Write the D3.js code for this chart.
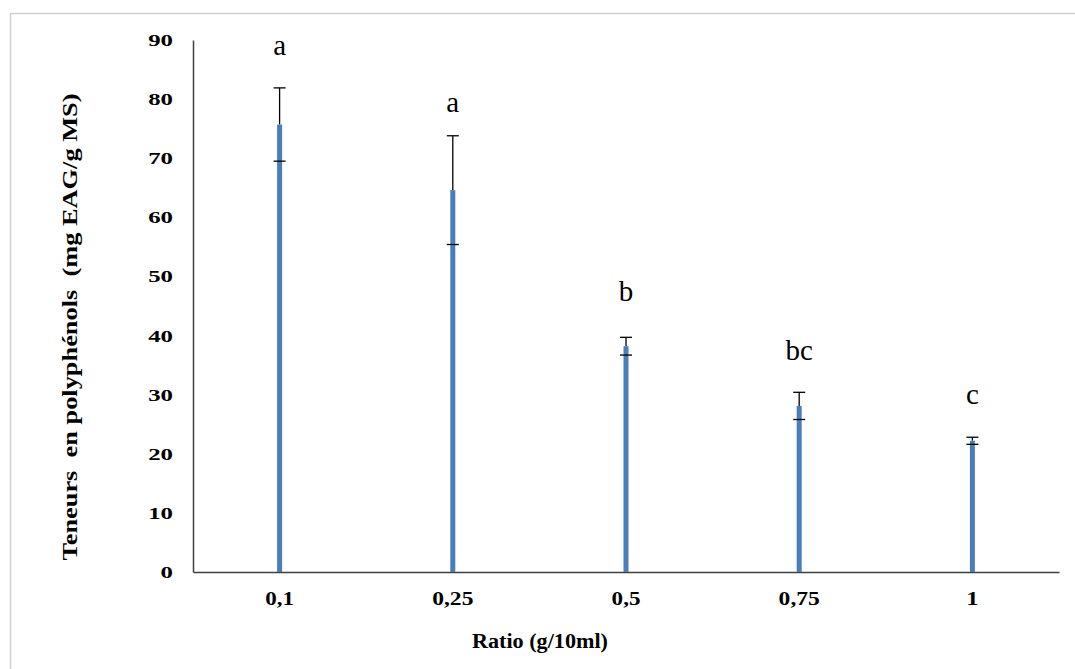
<!DOCTYPE html>
<html>
<head>
<meta charset="utf-8">
<script src="https://cdn.jsdelivr.net/npm/d3@7"></script>
<style>
  body { margin: 0; background: #fff; }
</style>
</head>
<body>
<svg id="chart" width="1075" height="669"></svg>
<script>
// data
const ratios  = ["0,1", "0,25", "0,5", "0,75", "1"];
const means   = [75.7, 64.6, 38.2, 28.1, 22.2];
const sds     = [6.2, 9.2, 1.5, 2.3, 0.6];
const letters = ["a", "a", "b", "bc", "c"];
const letterY = [89.2, 79.5, 47.5, 37.6, 30.1]; // value level of each letter
const yTicks  = [0, 10, 20, 30, 40, 50, 60, 70, 80, 90];

const FONT = "Liberation Serif";

const svg = d3.select("#chart");
const margin = { top: 40, right: 16, bottom: 97, left: 193 };
const W = +svg.attr("width") - margin.left - margin.right;
const H = +svg.attr("height") - margin.top - margin.bottom;

// outer frame
svg.append("rect")
   .attr("x", 10.5).attr("y", 13.5)
   .attr("width", 1080).attr("height", 680)
   .attr("fill", "none")
   .attr("stroke", "#d0d0d0")
   .attr("stroke-width", 1.5);

const g = svg.append("g")
             .attr("transform", `translate(${margin.left},${margin.top})`);

const x = d3.scaleBand().domain(ratios).range([0, W]);
const y = d3.scaleLinear().domain([0, 90]).range([H, 0]);

// tick label width helper (the digits are drawn wide in the original)
const tw = s => s.replace(/,/g, "").length * 12.4 + (s.split(",").length - 1) * 4;

// y axis
const yAxis = g.append("g")
  .call(d3.axisLeft(y).tickValues(yTicks).tickSize(0).tickPadding(20))
  .attr("font-family", FONT);
yAxis.select(".domain").attr("stroke", "#404040").attr("stroke-width", 1.5);
yAxis.selectAll("text")
  .attr("fill", "#000")
  .attr("font-family", FONT)
  .attr("font-size", 17)
  .attr("font-weight", "bold")
  .attr("textLength", d => tw(String(d)))
  .attr("lengthAdjust", "spacingAndGlyphs");

// x axis
const xAxis = g.append("g")
  .attr("transform", `translate(0,${H})`)
  .call(d3.axisBottom(x).tickSize(0).tickPadding(20))
  .attr("font-family", FONT);
xAxis.select(".domain").attr("stroke", "#404040").attr("stroke-width", 1.5);
xAxis.selectAll("text")
  .attr("fill", "#000")
  .attr("font-family", FONT)
  .attr("font-size", 18)
  .attr("font-weight", "bold")
  .attr("textLength", d => tw(d))
  .attr("lengthAdjust", "spacingAndGlyphs");

const rows = ratios.map((r, i) => ({ r, m: means[i], s: sds[i], l: letters[i], ly: letterY[i] }));
const cx = d => x(d.r) + x.bandwidth() / 2;
const capW = 6;

// upper whiskers (behind bars)
g.selectAll("line.whisker")
 .data(rows)
 .join("line")
   .attr("class", "whisker")
   .attr("x1", cx).attr("x2", cx)
   .attr("y1", d => y(d.m + d.s))
   .attr("y2", d => y(d.m))
   .attr("stroke", "#000")
   .attr("stroke-width", 1.3);

// bars
const barW = 5;
g.selectAll("rect.bar")
 .data(rows)
 .join("rect")
   .attr("class", "bar")
   .attr("x", d => cx(d) - barW / 2)
   .attr("y", d => y(d.m))
   .attr("width", barW)
   .attr("height", d => H - y(d.m))
   .attr("fill", "#4a7ebb");

// caps
["up", "lo"].forEach(k => {
  const v = d => k === "up" ? d.m + d.s : d.m - d.s;
  g.selectAll(`line.cap-${k}`)
   .data(rows)
   .join("line")
     .attr("class", `cap-${k}`)
     .attr("x1", d => cx(d) - capW).attr("x2", d => cx(d) + capW)
     .attr("y1", d => y(v(d)))
     .attr("y2", d => y(v(d)))
     .attr("stroke", "#000")
     .attr("stroke-width", 1.3);
});

// significance letters
g.selectAll("text.letter")
 .data(rows)
 .join("text")
   .attr("class", "letter")
   .attr("x", cx)
   .attr("y", d => y(d.ly))
   .attr("dy", "0.35em")
   .attr("text-anchor", "middle")
   .attr("font-family", FONT)
   .attr("font-size", 29)
   .text(d => d.l);

// axis titles
svg.append("text")
   .attr("transform", "translate(77,327) rotate(-90)")
   .attr("text-anchor", "middle")
   .attr("font-family", FONT)
   .attr("font-size", 21)
   .attr("font-weight", "bold")
   .style("white-space", "pre")
   .attr("textLength", 467)
   .attr("lengthAdjust", "spacingAndGlyphs")
   .text("Teneurs\u00a0 en polyphénols\u00a0 (mg EAG/g MS)");

svg.append("text")
   .attr("x", 540)
   .attr("y", 648)
   .attr("text-anchor", "middle")
   .attr("font-family", FONT)
   .attr("font-size", 20)
   .attr("font-weight", "bold")
   .attr("textLength", 136)
   .attr("lengthAdjust", "spacingAndGlyphs")
   .text("Ratio (g/10ml)");
</script>
</body>
</html>
